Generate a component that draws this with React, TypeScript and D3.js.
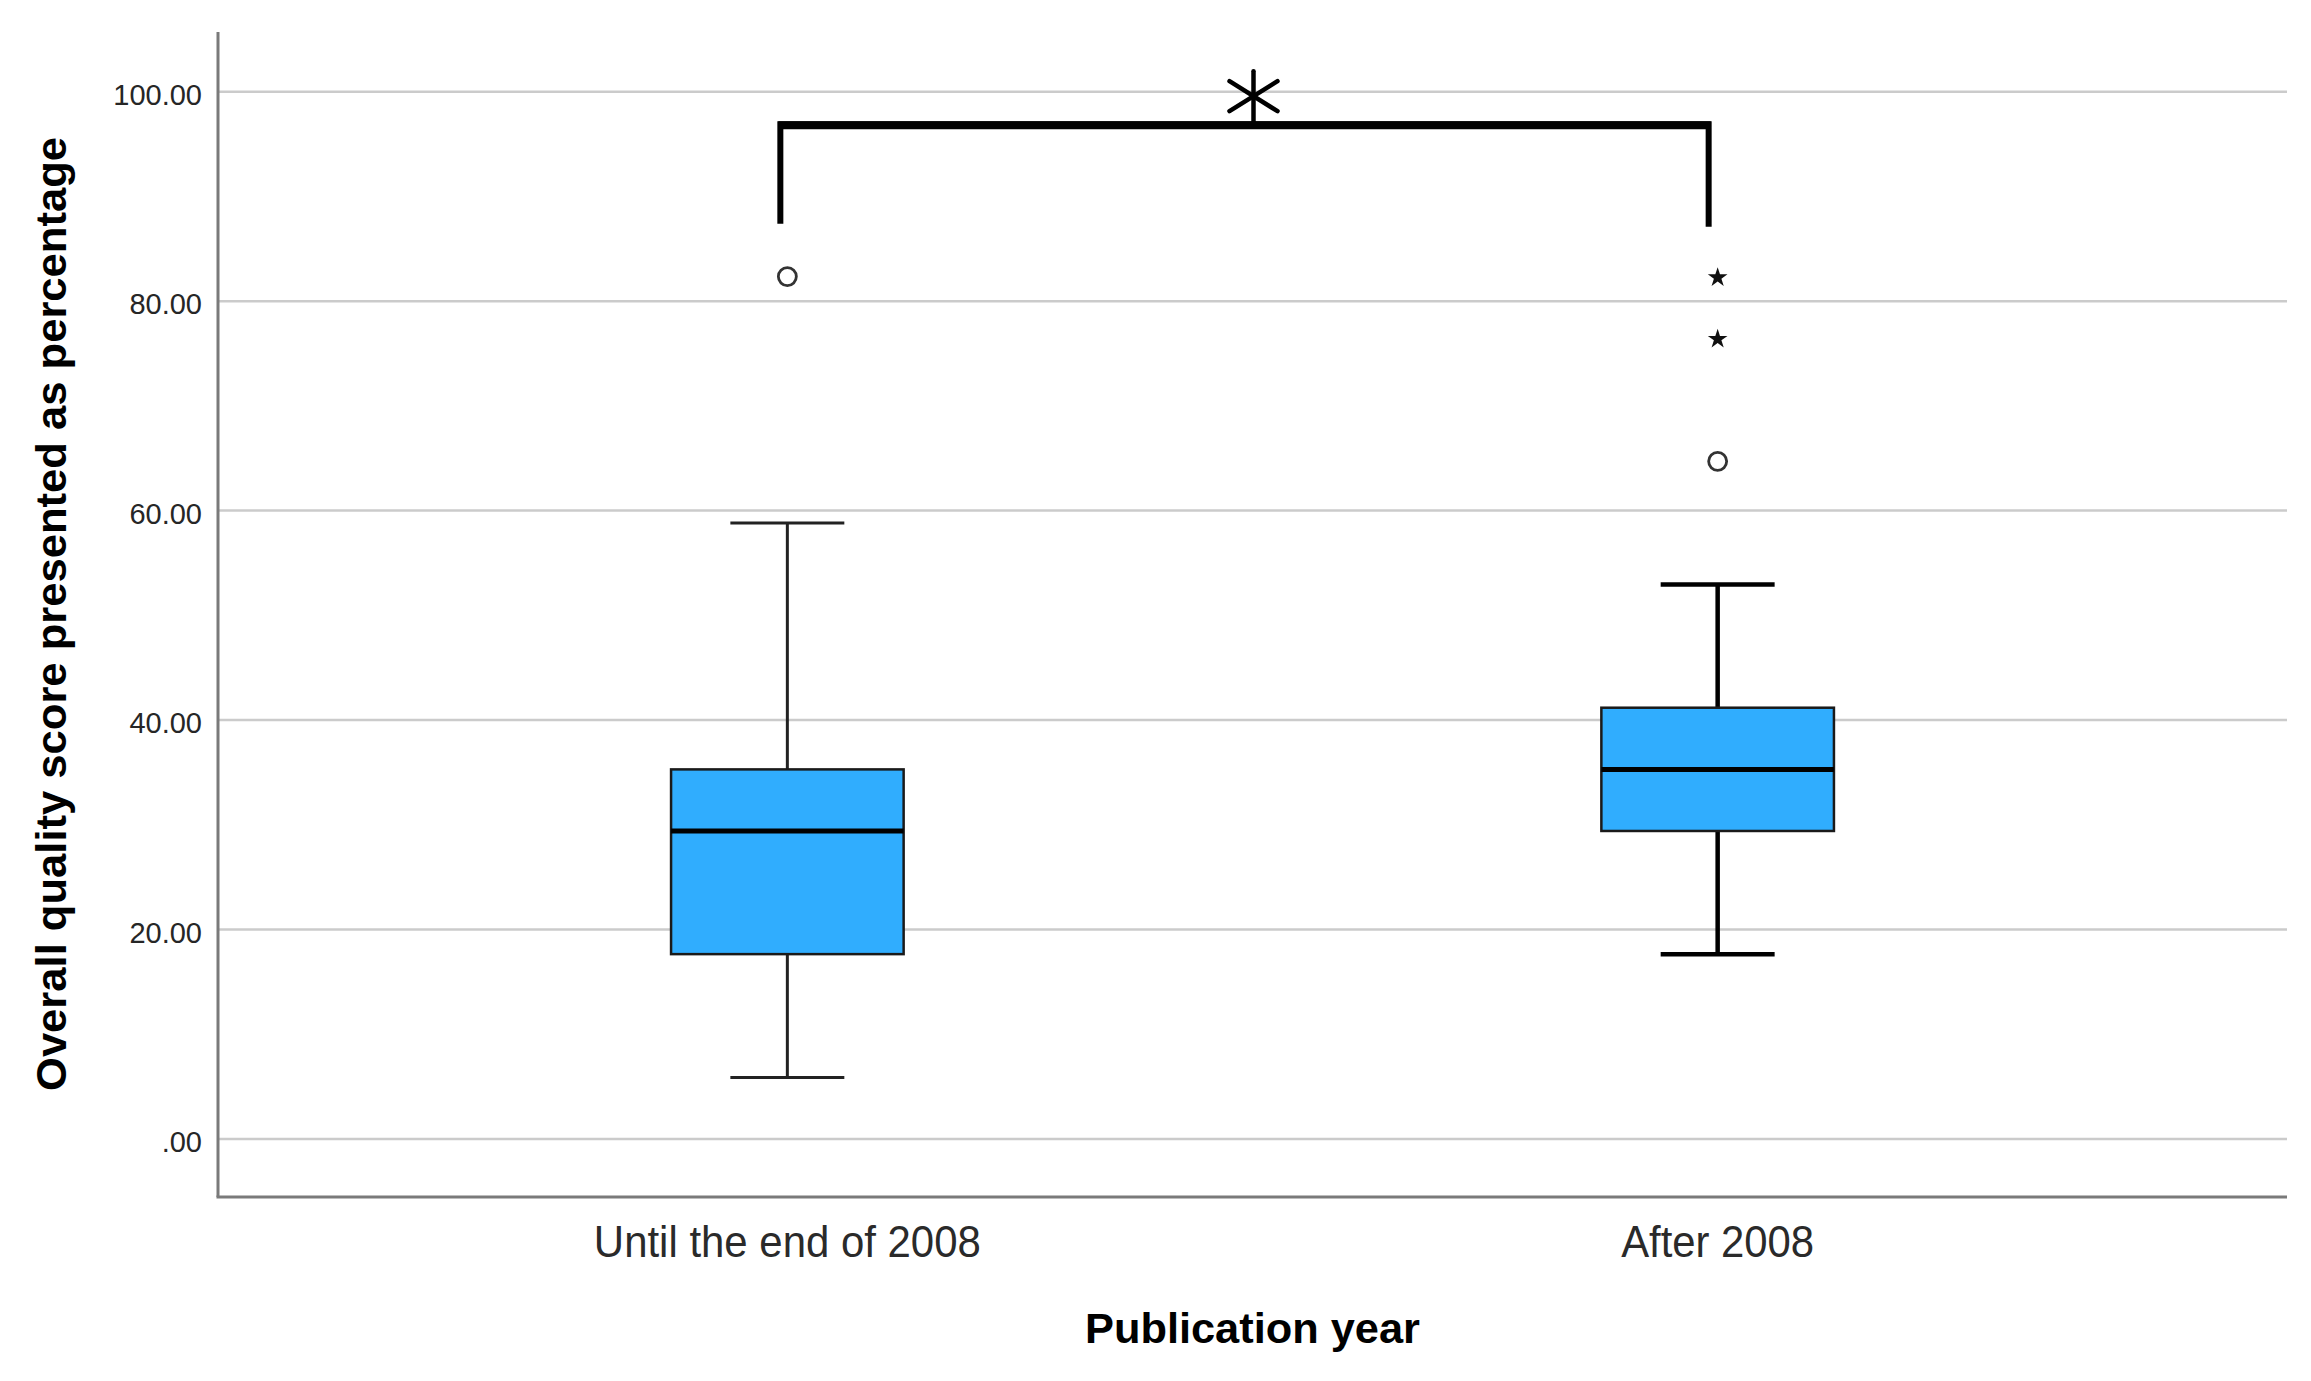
import { useEffect, useRef } from "react";
import * as d3 from "d3";

// Publication-year groups
const categories = ["Until the end of 2008", "After 2008"];

// Box plot summary values (percent)
const whiskerLow = [5.88, 17.65];
const quartile1 = [17.65, 29.41];
const medians = [29.41, 35.29];
const quartile3 = [35.29, 41.18];
const whiskerHigh = [58.82, 52.94];

// Outliers (circles) and extreme values (stars)
const outliers = [[82.35], [64.71]];
const extremes = [[], [76.47, 82.35]];

const yTicks = [0, 20, 40, 60, 80, 100];

// significance bracket (top and leg ends, in data units)
const bracketTop = 96.9;
const bracketLegs = [87.4, 87.1];

export default function App() {
  const ref = useRef<SVGSVGElement>(null);

  useEffect(() => {
    if (!ref.current) return;
    const svg = d3.select(ref.current);
    svg.selectAll("*").remove();

    const left = 218;
    const right = 2287;
    const top = 32;
    const bottom = 1197;
    const font = "'Liberation Sans', Arial, sans-serif";

    const x = d3
      .scalePoint<string>()
      .domain(categories)
      .range([left, right])
      .padding(0.612);

    const y = d3.scaleLinear().domain([-5.54, 105.7]).range([bottom, top]);

    const step = x.step();
    const boxW = step * 0.25;
    const capW = boxW * 0.49;

    // Gridlines
    svg
      .append("g")
      .selectAll("line")
      .data(yTicks)
      .enter()
      .append("line")
      .attr("x1", left)
      .attr("x2", right)
      .attr("y1", (d) => y(d))
      .attr("y2", (d) => y(d))
      .attr("stroke", "#cbcbcb")
      .attr("stroke-width", 2.5);

    // Tick labels
    const fmt = (d: number) => d3.format(".2f")(d).replace(/^0\./, ".");
    svg
      .append("g")
      .selectAll("text")
      .data(yTicks)
      .enter()
      .append("text")
      .attr("x", left - 16)
      .attr("y", (d) => y(d) + 13)
      .attr("text-anchor", "end")
      .attr("font-family", font)
      .attr("font-size", 29)
      .attr("fill", "#262626")
      .text(fmt);

    // Axis lines
    svg
      .append("line")
      .attr("x1", left)
      .attr("x2", left)
      .attr("y1", top)
      .attr("y2", bottom)
      .attr("stroke", "#7a7a7a")
      .attr("stroke-width", 3);
    svg
      .append("line")
      .attr("x1", left - 1.5)
      .attr("x2", right)
      .attr("y1", bottom)
      .attr("y2", bottom)
      .attr("stroke", "#7a7a7a")
      .attr("stroke-width", 3);

    // Boxes
    categories.forEach((c, i) => {
      const cx = x(c)!;
      const g = svg.append("g");
      const wStroke = i === 0 ? 3 : 4.5;
      const wColor = i === 0 ? "#222" : "#000";

      // whiskers
      g.append("line")
        .attr("x1", cx)
        .attr("x2", cx)
        .attr("y1", y(whiskerHigh[i]))
        .attr("y2", y(quartile3[i]))
        .attr("stroke", wColor)
        .attr("stroke-width", wStroke);
      g.append("line")
        .attr("x1", cx)
        .attr("x2", cx)
        .attr("y1", y(quartile1[i]))
        .attr("y2", y(whiskerLow[i]))
        .attr("stroke", wColor)
        .attr("stroke-width", wStroke);
      [whiskerHigh[i], whiskerLow[i]].forEach((v) => {
        g.append("line")
          .attr("x1", cx - capW / 2)
          .attr("x2", cx + capW / 2)
          .attr("y1", y(v))
          .attr("y2", y(v))
          .attr("stroke", wColor)
          .attr("stroke-width", wStroke);
      });

      // box
      g.append("rect")
        .attr("x", cx - boxW / 2)
        .attr("y", y(quartile3[i]))
        .attr("width", boxW)
        .attr("height", y(quartile1[i]) - y(quartile3[i]))
        .attr("fill", "#30adfe")
        .attr("stroke", "#1a1a1a")
        .attr("stroke-width", 2.5);

      // median
      g.append("line")
        .attr("x1", cx - boxW / 2)
        .attr("x2", cx + boxW / 2)
        .attr("y1", y(medians[i]))
        .attr("y2", y(medians[i]))
        .attr("stroke", "#000")
        .attr("stroke-width", 5);

      // outliers
      g.selectAll(".out")
        .data(outliers[i])
        .enter()
        .append("circle")
        .attr("class", "out")
        .attr("cx", cx)
        .attr("cy", (d) => y(d))
        .attr("r", 9)
        .attr("fill", "white")
        .attr("stroke", "#333")
        .attr("stroke-width", 2.8);

      // extremes
      g.selectAll(".ext")
        .data(extremes[i])
        .enter()
        .append("path")
        .attr("class", "ext")
        .attr("transform", (d) => `translate(${cx},${y(d) + 1})`)
        .attr("d", d3.symbol().type(d3.symbolStar).size(120)())
        .attr("fill", "#111");
    });

    // Significance bracket
    const bx1 = x(categories[0])! - 7;
    const bx2 = x(categories[1])! - 9;
    const by = y(bracketTop);
    svg
      .append("path")
      .attr(
        "d",
        `M${bx1},${y(bracketLegs[0])}V${by}H${bx2}V${y(bracketLegs[1])}`
      )
      .attr("fill", "none")
      .attr("stroke", "#000")
      .attr("stroke-width", 6)
      .attr("stroke-linejoin", "miter");
    svg
      .append("line")
      .attr("x1", bx1 - 2)
      .attr("x2", bx2 + 2)
      .attr("y1", by + 1)
      .attr("y2", by + 1)
      .attr("stroke", "#000")
      .attr("stroke-width", 8);

    // Asterisk
    const ax = (bx1 + bx2) / 2 + 9;
    const ay = by - 28;
    const ast = svg
      .append("g")
      .attr("stroke", "#000")
      .attr("stroke-width", 4.5)
      .attr("stroke-linecap", "round");
    ast
      .append("line")
      .attr("x1", ax)
      .attr("x2", ax)
      .attr("y1", ay - 25)
      .attr("y2", by);
    ast
      .append("line")
      .attr("x1", ax - 24)
      .attr("x2", ax + 24)
      .attr("y1", ay - 15)
      .attr("y2", ay + 15);
    ast
      .append("line")
      .attr("x1", ax + 24)
      .attr("x2", ax - 24)
      .attr("y1", ay - 15)
      .attr("y2", ay + 15);

    // Category labels
    const labelLens = [387, 193];
    svg
      .append("g")
      .selectAll("text")
      .data(categories)
      .enter()
      .append("text")
      .attr("x", (d) => x(d)!)
      .attr("y", 1257)
      .attr("text-anchor", "middle")
      .attr("font-family", font)
      .attr("font-size", 45)
      .attr("fill", "#2a2a2a")
      .attr("textLength", (d, i) => labelLens[i])
      .attr("lengthAdjust", "spacingAndGlyphs")
      .text((d) => d);

    // Axis titles
    svg
      .append("text")
      .attr("x", (left + right) / 2)
      .attr("y", 1343)
      .attr("text-anchor", "middle")
      .attr("font-family", font)
      .attr("font-weight", "bold")
      .attr("font-size", 43)
      .attr("fill", "#000")
      .attr("textLength", 335)
      .attr("lengthAdjust", "spacingAndGlyphs")
      .text("Publication year");

    svg
      .append("text")
      .attr("transform", "translate(66,614) rotate(-90)")
      .attr("text-anchor", "middle")
      .attr("font-family", font)
      .attr("font-weight", "bold")
      .attr("font-size", 42)
      .attr("fill", "#000")
      .attr("textLength", 954)
      .attr("lengthAdjust", "spacingAndGlyphs")
      .text("Overall quality score presented as percentage");
  }, []);

  return (
    <svg
      ref={ref}
      width={2311}
      height={1381}
      style={{ position: "absolute", left: 0, top: 0, background: "#fff" }}
    />
  );
}
